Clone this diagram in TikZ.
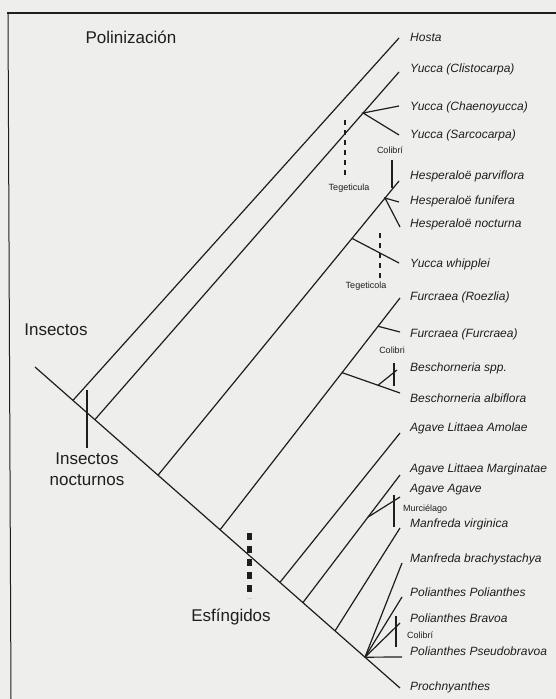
\documentclass[tikz,border=0pt]{standalone}
\usepackage{fontspec}
\setmainfont{Liberation Sans}
\usetikzlibrary{positioning}

\definecolor{paper}{RGB}{238,238,236}
\definecolor{ink}{RGB}{30,30,30}

\tikzset{
  taxon/.style={anchor=base west, inner sep=0pt, text=ink, font=\fontsize{12}{14}\selectfont\itshape},
  agent/.style={anchor=base, inner sep=0pt, text=ink, font=\fontsize{9}{10}\selectfont},
  clade/.style={anchor=base, inner sep=0pt, text=ink, align=center, font=\fontsize{17}{21}\selectfont},
  branch/.style={ink, line width=1.2pt},
  switchbar/.style={ink, line width=2.8pt},
  switchdash/.style={ink, line width=2.8pt, dash pattern=on 5pt off 5pt},
}

\begin{document}
\begin{tikzpicture}[x=1pt, y=-1pt]
  % Paper and frame
  \fill[paper] (0,0) rectangle (556,699);
  \useasboundingbox (0,0) rectangle (556,699);
  \draw[ink, line width=1.2pt] (7,13) -- (556,13);
  \draw[ink, line width=1pt] (8,13) -- (11,699);

  % Taxa
  \node[taxon] (hosta)  at (410,41)  {Hosta};
  \node[taxon] (clisto) at (410,72)  {Yucca (Clistocarpa)};
  \node[taxon] (chaeno) at (410,110) {Yucca (Chaenoyucca)};
  \node[taxon] (sarco)  at (410,138) {Yucca (Sarcocarpa)};
  \node[taxon] (parvi)  at (410,179) {Hesperaloë parviflora};
  \node[taxon] (funi)   at (410,204) {Hesperaloë funifera};
  \node[taxon] (noct)   at (410,227) {Hesperaloë nocturna};
  \node[taxon] (whip)   at (410,267) {Yucca whipplei};
  \node[taxon] (roez)   at (410,300) {Furcraea (Roezlia)};
  \node[taxon] (furc)   at (410,337) {Furcraea (Furcraea)};
  \node[taxon] (besspp) at (410,371) {Beschorneria spp.};
  \node[taxon] (besalb) at (410,402) {Beschorneria albiflora};
  \node[taxon] (amol)   at (410,431) {Agave Littaea Amolae};
  \node[taxon] (marg)   at (410,472) {Agave Littaea Marginatae};
  \node[taxon] (agave)  at (410,492) {Agave Agave};
  \node[taxon] (virg)   at (410,527) {Manfreda virginica};
  \node[taxon] (brach)  at (410,562) {Manfreda brachystachya};
  \node[taxon] (polian) at (410,596) {Polianthes Polianthes};
  \node[taxon] (bravoa) at (410,622) {Polianthes Bravoa};
  \node[taxon] (pseudo) at (410,655) {Polianthes Pseudobravoa};
  \node[taxon] (proch)  at (410,690) {Prochnyanthes};

  % Branch tips
  \coordinate (t-hosta)  at (399,38);
  \coordinate (t-clisto) at (399,72);
  \coordinate (t-chaeno) at (399,106);
  \coordinate (t-sarco)  at (399,135);
  \coordinate (t-parvi)  at (399,181);
  \coordinate (t-funi)   at (399,202);
  \coordinate (t-noct)   at (400,227);
  \coordinate (t-whip)   at (399,263);
  \coordinate (t-roez)   at (400,298);
  \coordinate (t-furc)   at (400,332);
  \coordinate (t-besspp) at (397,370);
  \coordinate (t-besalb) at (400,393);
  \coordinate (t-amol)   at (400,433);
  \coordinate (t-marg)   at (400,475);
  \coordinate (t-agave)  at (400,497);
  \coordinate (t-virg)   at (400,528);
  \coordinate (t-brach)  at (402,563);
  \coordinate (t-polian) at (402,597);
  \coordinate (t-bravoa) at (400,623);
  \coordinate (t-pseudo) at (402,657);
  \coordinate (t-proch)  at (400,688);

  % Trunk
  \coordinate (root) at (35,367);
  \path (root) -- (t-proch)
    coordinate[pos=0.104] (n1) coordinate[pos=0.164] (n2)
    coordinate[pos=0.337] (n3) coordinate[pos=0.507] (n4)
    coordinate[pos=0.671] (n5) coordinate[pos=0.734] (n6)
    coordinate[pos=0.822] (n7) coordinate[pos=0.904] (n8);
  \draw[branch] (root) -- (t-proch);

  % Main branches
  \draw[branch] (n1) -- (t-hosta);
  \draw[branch] (n2) -- (t-clisto);
  \draw[branch] (n3) -- (t-parvi);
  \draw[branch] (n4) -- (t-roez);
  \draw[branch] (n5) -- (t-amol);
  \draw[branch] (n6) -- (t-marg);
  \draw[branch] (n7) -- (t-virg);

  % Side branches
  \path (n2) -- (t-clisto) coordinate[pos=0.882] (j-yucca);
  \path (n3) -- (t-parvi) coordinate[pos=0.942] (j-hesp) coordinate[pos=0.805] (j-whip);
  \path (n4) -- (t-roez) coordinate[pos=0.878] (j-furc) coordinate[pos=0.678] (j-besch);
  \path (n6) -- (t-marg) coordinate[pos=0.67] (j-agave);
  \draw[branch] (t-chaeno) -- (j-yucca) -- (t-sarco);
  \draw[branch] (t-funi) -- (j-hesp) -- (t-noct);
  \draw[branch] (j-whip) -- (t-whip);
  \draw[branch] (j-furc) -- (t-furc);
  \draw[branch] (j-besch) -- (t-besalb);
  \path (j-besch) -- (t-besalb) coordinate[pos=0.62] (j-besspp);
  \draw[branch] (j-besspp) -- (t-besspp);
  \draw[branch] (j-agave) -- (t-agave);
  \draw[branch] (n8) -- (t-brach);
  \draw[branch] (n8) -- (t-polian);
  \draw[branch] (n8) -- (t-bravoa);
  \draw[branch] (n8) -- (t-pseudo);

  % Pollinator shifts
  \draw[switchbar] (87,390) -- (87,448);
  \draw[switchdash] (345,120) -- (345,176);
  \draw[switchbar] (392,160) -- (392,188);
  \draw[switchdash] (380,233) -- (380,278);
  \draw[switchbar] (394,363) -- (394,386);
  \draw[switchbar] (394,495) -- (394,527);
  \draw[switchbar] (396,616) -- (396,647);
  \draw[ink, line width=5pt, dash pattern=on 7pt off 6pt] (249,533) -- (249,598);

  % Pollinator labels
  \node[agent] (teg1)  at (349,190) {Tegeticula};
  \node[agent] (col1)  at (390,153) {Colibrí};
  \node[agent] (teg2)  at (366,288) {Tegeticola};
  \node[agent] (col2)  at (392,353) {Colibri};
  \node[agent, anchor=base west] (murc) at (403,511) {Murciélago};
  \node[agent, anchor=base west] (col3) at (407,638) {Colibrí};

  % Group labels
  \node[clade] (poli)  at (131,43)  {Polinización};
  \node[clade] (ins)   at (56,335)  {Insectos};
  \node[clade] (noc)   at (87,485)  {Insectos\\nocturnos};
  \node[clade] (esf)   at (231,621) {Esfíngidos};
\end{tikzpicture}
\end{document}
